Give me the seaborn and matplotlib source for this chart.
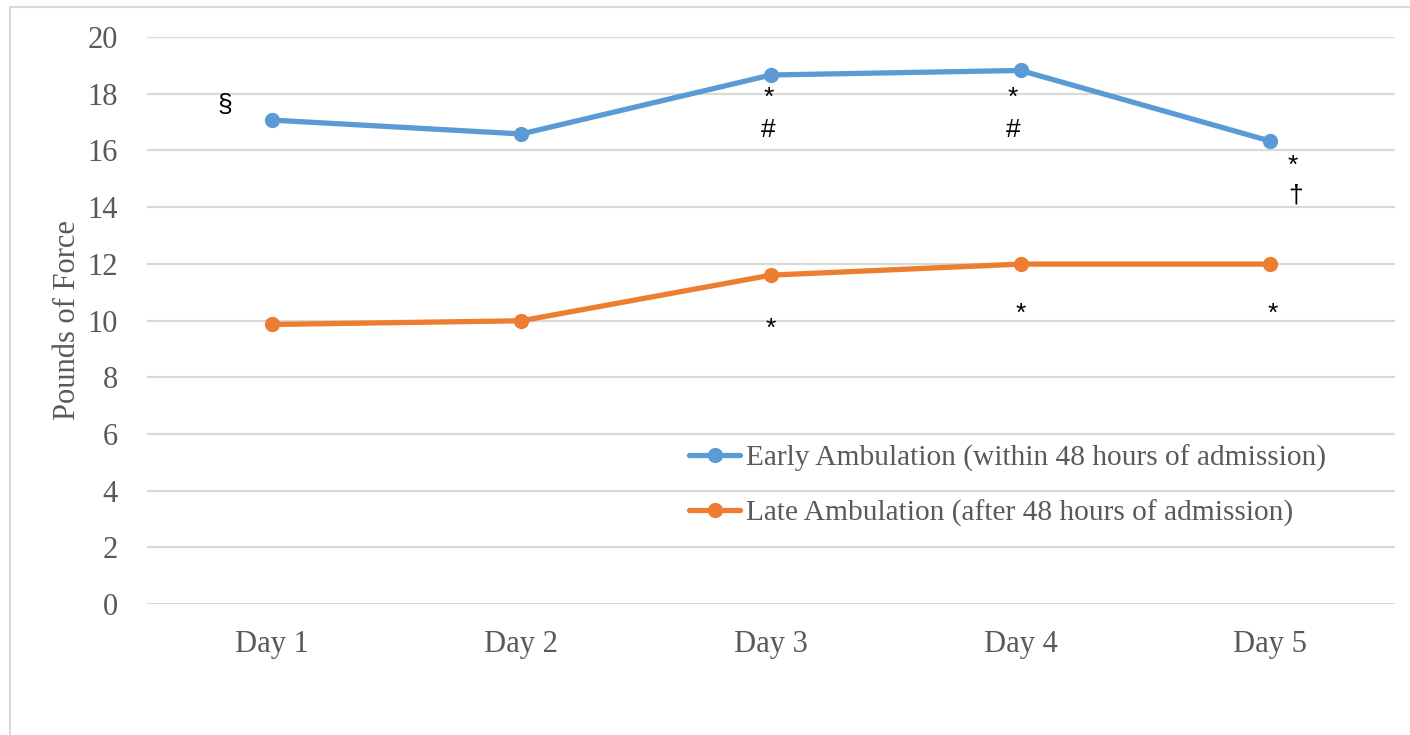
import pandas as pd
import matplotlib.pyplot as plt
import seaborn as sns
from matplotlib.patches import Rectangle

# Data
days = ['Day 1', 'Day 2', 'Day 3', 'Day 4', 'Day 5']
early = [17.07, 16.58, 18.66, 18.82, 16.33]
late = [9.86, 9.99, 11.6, 11.99, 11.99]
early_label = 'Early Ambulation (within 48 hours of admission)'
late_label = 'Late Ambulation (after 48 hours of admission)'

# Significance markers: symbol, x (category units), y (data units)
marks = ['§', '*', '#', '*', '#', '*', '†', '*', '*', '*']
mark_x = [-0.19, 1.99, 1.99, 2.97, 2.97, 4.09, 4.10, 2.0, 3.0, 4.01]
mark_y = [17.6, 17.85, 16.72, 17.85, 16.72, 15.45, 14.4, 9.7, 10.23, 10.23]

df = pd.DataFrame({
    'day': days * 2,
    'value': early + late,
    'group': [early_label] * 5 + [late_label] * 5,
})

sns.set_style('white')
plt.rcParams['font.family'] = ['Liberation Serif', 'DejaVu Serif']

fig = plt.figure(figsize=(14.1, 7.35), dpi=100)
ax = fig.add_axes([147 / 1410, 131 / 735, 1248 / 1410, 567 / 735])

sns.lineplot(data=df, x='day', y='value', hue='group',
             palette=['#5B9BD5', '#ED7D31'], marker='o', markersize=11,
             markeredgewidth=0, linewidth=3.8, ax=ax)

ax.set_xlim(-0.5, 4.5)
ax.set_ylim(0, 20)
ax.set_yticks(range(0, 21, 2))
ax.yaxis.grid(True, color='#D9D9D9', linewidth=1.6)
ax.set_axisbelow(True)
for s in ax.spines.values():
    s.set_visible(False)
ax.tick_params(axis='both', length=0, labelsize=22, labelcolor='#595959')
ax.tick_params(axis='y', pad=21)
ax.tick_params(axis='x', pad=19)
ax.set_xlabel('')
ax.set_ylabel('Pounds of Force', fontsize=22, color='#595959', labelpad=4)

for m, x, y in zip(marks, mark_x, mark_y):
    ax.text(x, y, m, fontsize=19, color='black', ha='center', va='center',
            family=['Liberation Sans', 'DejaVu Sans'])

ax.legend(loc='upper left', bbox_to_anchor=(530 / 1248, 0.302), frameon=False,
          fontsize=21.2, handlelength=1.75, handletextpad=0.2, labelspacing=0.95,
          labelcolor='#595959', borderaxespad=0)

# outer chart border
fig.patches.append(Rectangle((10 / 1410, -0.05), 1.1, 1 - 7 / 735 + 0.05,
                             transform=fig.transFigure, fill=False,
                             edgecolor='#D9D9D9', linewidth=1.5))

fig.savefig('out.png', dpi=100)
